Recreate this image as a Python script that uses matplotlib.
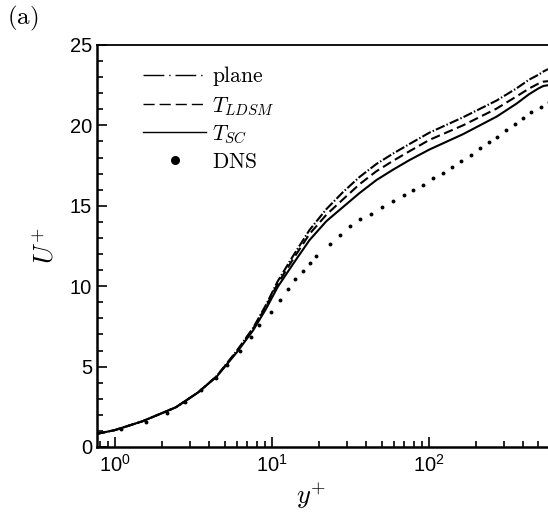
import matplotlib
matplotlib.use("Agg")
import matplotlib.pyplot as plt
from matplotlib.ticker import MultipleLocator, LogLocator, NullFormatter

plt.rcParams['font.family'] = ['Liberation Sans', 'DejaVu Sans']
plt.rcParams['mathtext.fontset'] = 'cm'

# LES profiles
yp_les = [0.77, 1.0, 1.5, 2.45, 3.4, 4.45, 6.0, 7.6, 9.2, 10.9, 13.7, 17.4, 22.3,
          28.4, 36.3, 46.4, 59.3, 75.6, 101, 165, 271, 362, 437, 500, 537, 575]
u_sc = [0.82, 1.05, 1.6, 2.47, 3.4, 4.37, 5.9, 7.25, 8.6, 9.95, 11.4, 12.87, 14.05,
        14.92, 15.8, 16.6, 17.25, 17.85, 18.5, 19.45, 20.55, 21.35, 21.95, 22.3, 22.45, 22.5]
u_ldsm = [0.82, 1.05, 1.6, 2.47, 3.4, 4.4, 5.95, 7.35, 8.75, 10.15, 11.7, 13.25, 14.45,
          15.4, 16.35, 17.15, 17.8, 18.4, 19.1, 20.0, 21.05, 21.8, 22.3, 22.6, 22.72, 22.75]
u_plane = [0.82, 1.05, 1.6, 2.47, 3.4, 4.4, 6.0, 7.4, 8.85, 10.3, 11.9, 13.5, 14.8,
           15.85, 16.8, 17.6, 18.25, 18.85, 19.55, 20.5, 21.55, 22.3, 22.85, 23.15, 23.35, 23.5]

# DNS points
yp_dns = [1.1, 1.58, 2.14, 2.8, 3.55, 4.4, 5.2, 6.27, 7.35, 8.3, 9.95, 11.2, 12.6,
          14.1, 15.8, 17.6, 19.2, 23.4, 27.4, 31.7, 36.6, 42.7, 50.4, 59.4, 69.4,
          79.4, 91.4, 106.7, 123, 141, 161, 187, 213, 241, 273, 309, 354, 399, 450,
          517, 580]
u_dns = [1.1, 1.57, 2.13, 2.78, 3.52, 4.3, 5.1, 5.97, 6.82, 7.6, 8.41, 9.14, 9.81,
         10.43, 10.95, 11.42, 11.9, 12.62, 13.2, 13.74, 14.2, 14.5, 14.94, 15.3, 15.67,
         15.98, 16.29, 16.7, 17.06, 17.43, 17.79, 18.16, 18.57, 18.99, 19.3, 19.71,
         20.09, 20.44, 20.85, 21.16, 21.45]

fig = plt.figure(figsize=(5.48, 5.15), dpi=100)
ax = fig.add_axes([97 / 548, 68 / 515, 1 - 97 / 548, 402 / 515])

ax.plot(yp_les, u_plane, color='k', lw=1.5, dashes=(4.6, 1.0, 0.7, 1.0), label=r'$\mathrm{plane}$')
ax.plot(yp_les, u_ldsm, color='k', lw=1.5, dashes=(4.5, 2.2), label=r'$T_{LDSM}$')
ax.plot(yp_les, u_sc, color='k', lw=1.5, label=r'$T_{SC}$')
ax.plot(yp_dns, u_dns, 'o', color='k', ms=2.8, mew=0, label=r'$\mathrm{DNS}$')

ax.set_xscale('log')
ax.set_xlim(0.77, 575)
ax.set_ylim(0, 25)
ax.yaxis.set_major_locator(MultipleLocator(5))
ax.yaxis.set_minor_locator(MultipleLocator(1))
ax.xaxis.set_major_locator(LogLocator(base=10))
ax.xaxis.set_minor_locator(LogLocator(base=10, subs=range(2, 10)))
ax.xaxis.set_minor_formatter(NullFormatter())
ax.tick_params(which='both', direction='in', labelsize=14.5, width=1.2, top=False, right=False)
ax.tick_params(which='major', length=7)
ax.tick_params(which='minor', length=4)
ax.tick_params(axis='x', pad=5)
for side in ['left', 'bottom']:
    ax.spines[side].set_linewidth(1.8)
ax.spines['top'].set_linewidth(1.3)
ax.spines['right'].set_visible(False)

ax.set_xlabel(r'$y^{+}$', fontsize=19)
ax.xaxis.set_label_coords(0.475, -0.085)
ax.set_ylabel(r'$U^{+}$', fontsize=19, labelpad=8)

leg = ax.legend(loc='upper left', bbox_to_anchor=(0.06, 1.0), frameon=False, fontsize=15.5,
                handlelength=2.9, labelspacing=0.3, handletextpad=0.3)
handles = leg.get_lines()
for h in handles:
    h.set_linewidth(1.0)
handles[0].set_dashes((15, 3.5, 1, 3.5))
handles[1].set_dashes((8, 3.6))
handles[3].set_markersize(6.5)

fig.text(0.012, 0.965, r'$\mathrm{(a)}$', fontsize=18, va='center')

fig.savefig('out.png', dpi=100)
